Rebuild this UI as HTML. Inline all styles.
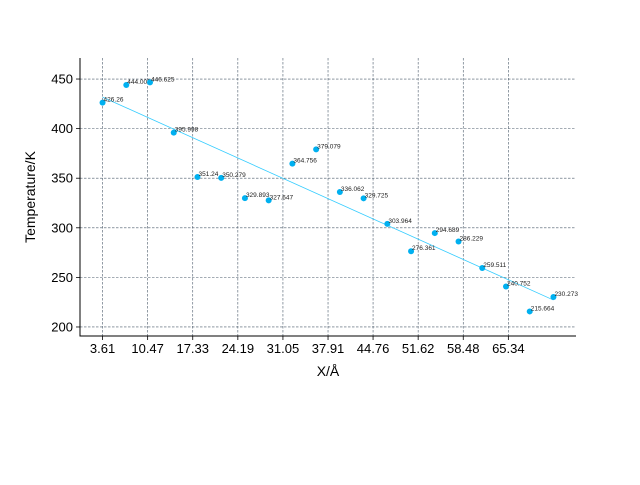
<!DOCTYPE html>
<html><head><meta charset="utf-8"><style>
body{margin:0;background:#fff}
svg{font-family:"Liberation Sans","DejaVu Sans",sans-serif}
</style></head><body>
<svg id="c" width="640" height="480" viewBox="0 0 640 480"></svg>
<script>
const xValues=[3.61,7.22,10.83,14.44,18.05,21.66,25.27,28.88,32.49,36.1,39.71,43.32,46.93,50.54,54.15,57.76,61.37,64.98,68.59,72.2];
const tempValues=[426.26,444.005,446.625,395.998,351.24,350.279,329.893,327.647,364.756,379.079,336.062,329.725,303.964,276.361,294.689,286.229,259.511,240.752,215.664,230.273];
const xTicks=[3.61,10.47,17.33,24.19,31.05,37.91,44.76,51.62,58.48,65.34];
const yTicks=[200,250,300,350,400,450];
const L=80,R=576,T=58,B=336;
const xmin=0.18,xmax=75.63,ymin=190.9,ymax=471.2;
const sx=v=>L+(v-xmin)/(xmax-xmin)*(R-L);
const sy=v=>B-(v-ymin)/(ymax-ymin)*(B-T);
const svg=document.getElementById('c');
const NS='http://www.w3.org/2000/svg';
function mk(tag,attrs,parent){const e=document.createElementNS(NS,tag);for(const k in attrs)e.setAttribute(k,attrs[k]);(parent||svg).appendChild(e);return e;}
// grid
xTicks.forEach(t=>{
 const g=mk('line',{x1:sx(t),x2:sx(t),y1:T,y2:B,stroke:'#4a5a6a','stroke-width':0.6,'stroke-dasharray':'2.5,1.5'});
 
 
 const tk=mk('line',{x1:sx(t),x2:sx(t),y1:B,y2:B+4,stroke:'#000','stroke-width':0.8});
 
 
 const tx=mk('text',{x:sx(t),y:B+17,'text-anchor':'middle','font-size':13});
 tx.textContent=t.toFixed(2);
 
 
});
yTicks.forEach(t=>{
 const g=mk('line',{x1:L,x2:R,y1:sy(t),y2:sy(t),stroke:'#4a5a6a','stroke-width':0.6,'stroke-dasharray':'2.5,1.5'});
 
 
 const tk=mk('line',{x1:L-4,x2:L,y1:sy(t),y2:sy(t),stroke:'#000','stroke-width':0.8});
 
 
 const tx=mk('text',{x:L-7,y:sy(t)+4.5,'text-anchor':'end','font-size':13});
 tx.textContent=t;
 
 
});
// axes spines
const ax=mk('path',{d:`M${L},${T} L${L},${B} L${R},${B}`,fill:'none',stroke:'#000','stroke-width':1});


// fit line
const n=xValues.length;let mx=0,my=0;xValues.forEach((x,i)=>{mx+=x;my+=tempValues[i];});mx/=n;my/=n;
let sxy=0,sxx=0;xValues.forEach((x,i)=>{sxy+=(x-mx)*(tempValues[i]-my);sxx+=(x-mx)*(x-mx);});
const slope=sxy/sxx,ic=my-slope*mx;
const x0=xValues[0],x1=xValues[n-1];
const fl=mk('line',{x1:sx(x0),y1:sy(ic+slope*x0),x2:sx(x1),y2:sy(ic+slope*x1),stroke:'#33ccff','stroke-width':0.8});


// points
xValues.forEach((x,i)=>{
 const c=mk('circle',{cx:sx(x),cy:sy(tempValues[i]),r:3,fill:'#00b0f0'});
 
 
 const t=mk('text',{x:sx(x)+1,y:sy(tempValues[i])-1,'font-size':6.5,fill:'#222'});
 t.textContent=String(tempValues[i]);
 
 
});
const xl=mk('text',{x:(L+R)/2,y:376,'text-anchor':'middle','font-size':14});
xl.textContent='X/Å';


const yl=mk('text',{x:0,y:0,'text-anchor':'middle','font-size':14,transform:`translate(35,${(T+B)/2}) rotate(-90)`});
yl.textContent='Temperature/K';


</script>
</body></html>
